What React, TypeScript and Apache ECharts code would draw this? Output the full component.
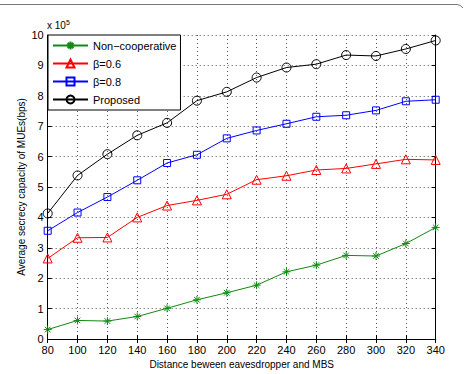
import React, { useEffect, useRef } from "react";
import * as echarts from "echarts";

const distances = ["80", "100", "120", "140", "160", "180", "200", "220", "240", "260", "280", "300", "320", "340"];
const nonCooperative = [0.31, 0.61, 0.59, 0.74, 1.01, 1.29, 1.52, 1.77, 2.21, 2.43, 2.75, 2.73, 3.14, 3.67];
const beta06 = [2.65, 3.33, 3.34, 4.0, 4.39, 4.56, 4.76, 5.24, 5.37, 5.56, 5.61, 5.76, 5.91, 5.89];
const beta08 = [3.56, 4.16, 4.67, 5.22, 5.79, 6.06, 6.6, 6.86, 7.08, 7.31, 7.36, 7.52, 7.82, 7.87];
const proposed = [4.13, 5.38, 6.08, 6.7, 7.11, 7.84, 8.13, 8.6, 8.93, 9.04, 9.34, 9.31, 9.54, 9.82];

const FONT = "Liberation Sans";
const ASTERISK = "path://M0,5 L10,5 M5,0 L5,10 M1.5,1.5 L8.5,8.5 M8.5,1.5 L1.5,8.5";

function mkSeries(name: string, data: number[], color: string, symbol: string, size: number) {
  return {
    name,
    type: "line",
    data,
    symbol,
    symbolSize: size,
    showAllSymbol: true,
    lineStyle: { color, width: 1 },
    itemStyle: { color: "none", borderColor: color, borderWidth: 1 },
    emphasis: { disabled: true },
  };
}

export default function App() {
  const ref = useRef<HTMLDivElement>(null);
  useEffect(() => {
    document.body.style.margin = "0";
    document.body.style.background = "#fff";
    const chart = echarts.init(ref.current!, null, { renderer: "svg" });
    const axisLine = { show: true, lineStyle: { color: "#000", width: 1 } };
    chart.setOption({
      animation: false,
      backgroundColor: "#fff",
      textStyle: { fontFamily: FONT },
      grid: { left: 47.7, right: 28.3, top: 35, bottom: 30, containLabel: false },
      legend: {
        orient: "vertical",
        left: 48,
        top: 35,
        backgroundColor: "#fff",
        borderColor: "#000",
        borderWidth: 1,
        borderRadius: 0,
        padding: [4, 4, 4, 4],
        itemGap: 5,
        itemWidth: 35,
        itemHeight: 10,
        textStyle: { fontFamily: FONT, fontSize: 11, color: "#000", padding: [0, 0, 0, 0] },
        data: ["Non\u2212cooperative", "\u03b2=0.6", "\u03b2=0.8", "Proposed"],
      },
      xAxis: [
        {
          type: "category",
          data: distances,
          boundaryGap: false,
          axisLine,
          axisTick: { show: true, inside: true, length: 4, lineStyle: { color: "#000" } },
          axisLabel: { color: "#000", fontSize: 11, fontFamily: FONT, margin: 5 },
          splitLine: { show: true, lineStyle: { type: [1, 3], color: "#555", width: 1 } },
          name: "Distance beween eavesdropper and MBS",
          nameLocation: "middle",
          nameGap: 20,
          nameMoveOverlap: false,
          nameTextStyle: { color: "#000", fontSize: 10, fontFamily: FONT },
        },
        {
          type: "category",
          data: distances,
          boundaryGap: false,
          position: "top",
          axisLine,
          axisTick: { show: true, inside: true, length: 4, lineStyle: { color: "#000" } },
          axisLabel: { show: false },
          splitLine: { show: false },
        },
      ],
      yAxis: [
        {
          type: "value",
          min: 0,
          max: 10,
          interval: 1,
          axisLine,
          axisTick: { show: true, inside: true, length: 4, lineStyle: { color: "#000" } },
          axisLabel: { color: "#000", fontSize: 11, fontFamily: FONT, margin: 4 },
          splitLine: { show: true, lineStyle: { type: [1, 3], color: "#555", width: 1 } },
          name: "Average secrecy capacity of MUEs(bps)",
          nameLocation: "middle",
          nameGap: 21,
          nameMoveOverlap: false,
          nameTextStyle: { color: "#000", fontSize: 10, fontFamily: FONT },
        },
        {
          type: "value",
          min: 0,
          max: 10,
          interval: 1,
          position: "right",
          axisLine,
          axisTick: { show: true, inside: true, length: 4, lineStyle: { color: "#000" } },
          axisLabel: { show: false },
          splitLine: { show: false },
        },
      ],
      graphic: [
        {
          type: "text",
          left: 47,
          top: 19,
          style: {
            text: "x 10{sup|5}",
            fontFamily: FONT,
            fontSize: 10,
            fill: "#000",
            rich: { sup: { fontSize: 7, verticalAlign: "top", padding: [0, 0, 6, 0], fontFamily: FONT } },
          },
        },
        {
          type: "line",
          shape: { x1: 0, y1: 4.5, x2: 457, y2: 4.5 },
          style: { stroke: "#777", lineWidth: 1 },
        },
        {
          type: "bezierCurve",
          shape: { x1: 457, y1: 4.5, cpx1: 460, cpy1: 4.5, x2: 463, y2: 8 },
          style: { stroke: "#777", lineWidth: 1, fill: "none" },
        },
      ],
      series: [
        mkSeries("Non\u2212cooperative", nonCooperative, "#108a10", ASTERISK, 8),
        mkSeries("\u03b2=0.6", beta06, "#ff0000", "triangle", 9),
        mkSeries("\u03b2=0.8", beta08, "#0000ff", "rect", 7),
        mkSeries("Proposed", proposed, "#000000", "circle", 9),
      ],
    });
    return () => chart.dispose();
  }, []);
  return <div ref={ref} style={{ position: "fixed", left: 0, top: 0, width: 464, height: 374 }} />;
}
